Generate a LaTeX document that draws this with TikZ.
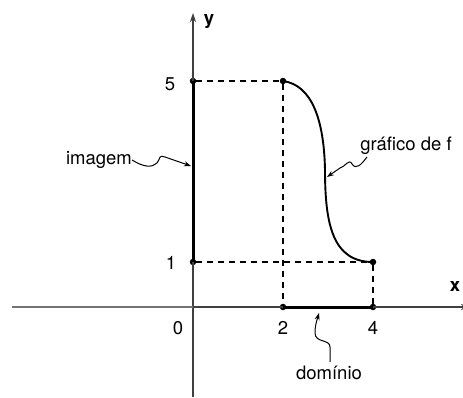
\documentclass[tikz,border=0pt]{standalone}
\usepackage{fontspec}
\setmainfont{TeX Gyre Heros}
\usetikzlibrary{arrows.meta}
\begin{document}
\begin{tikzpicture}[x=1bp,y=-1bp,
  axis/.style={line width=1.1bp,draw=black!75},
  thickseg/.style={line width=3bp},
  guide/.style={line width=1.5bp,dash pattern=on 6bp off 5bp},
  curve/.style={line width=1.9bp},
  ptr/.style={line width=1bp,-{Stealth[length=7bp,width=5bp]}},
  dot/.style={circle,fill=black,inner sep=0pt,minimum size=6.5bp},
  lbl/.style={font=\fontsize{18.5bp}{22bp}\selectfont,inner sep=0pt},
  axlbl/.style={font=\fontsize{18.5bp}{22bp}\selectfont\bfseries,inner sep=0pt}]
\useasboundingbox (0,0) rectangle (463,397);
% key points
\coordinate (O) at (193,307);
\node[dot] (y5) at (193,81) {};
\node[dot] (y1) at (193,262) {};
\node[dot] (p25) at (283,81) {};
\node[dot] (p41) at (373,262) {};
\node[dot] (x2) at (283,307) {};
\node[dot] (x4) at (373,307) {};
\coordinate (ytop) at (193,13);
\coordinate (ybot) at (193,397);
\coordinate (xleft) at (12,307);
\coordinate (xright) at (470,307);
% axes
\draw[axis,-{Stealth[length=9bp,width=6bp]}] (ybot) -- (ytop);
\draw[axis,draw=black!55] (xleft) -- (O);
\draw[axis,-{Stealth[length=9bp,width=6bp]}] (O) -- (xright);
% guides
\draw[guide] (y5) -- (p25);
\draw[guide] (p25) -- (x2);
\draw[guide] (y1) -- (p41);
\draw[guide] (p41) -- (x4);
% image and domain
\draw[thickseg] (y5.center) -- (y1.center);
\draw[thickseg] (x2.center) -- (x4.center);
% graph
\draw[curve] (p25.center) .. controls (312,85) and (324,120) .. (325,170)
  .. controls (325,225) and (333,262) .. (p41.center);
% labels
\node[axlbl] (ly) at (209,22) {y};
\node[axlbl] (lx) at (455,286) {x};
\node[lbl] (l5) at (170,84) {5};
\node[lbl] (l1) at (171,263) {1};
\node[lbl] (l0) at (178,328) {0};
\node[lbl] (l2) at (283,328) {2};
\node[lbl] (l4) at (373,328) {4};
\node[lbl] (img) at (99,160) {imagem};
\node[lbl] (graf) at (406,146) {gráfico de f};
\node[lbl] (dom) at (329,373) {domínio};
% pointers
\coordinate (imgtip) at (191,166);
\coordinate (graftip) at (327,177);
\coordinate (domtip) at (319,313);
\draw[ptr] (img.east) .. controls (143,167) and (152,168) .. (157,163)
  .. controls (161,158) and (158,155) .. (165,157) -- (imgtip);
\draw[ptr] (367,157) .. controls (361,165) and (356,170) .. (352,164)
  .. controls (349,158) and (345,167) .. (340,168) -- (graftip);
\draw[ptr] (dom.north) ++(1,-4) -- (330,347) .. controls (330,339) and (315,343) .. (315,333)
  .. controls (315,325) and (317,320) .. (domtip);
\end{tikzpicture}
\end{document}
